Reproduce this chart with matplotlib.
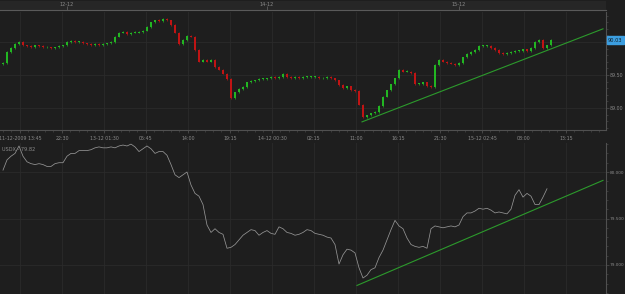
import numpy as np
import matplotlib
matplotlib.use("Agg")
import matplotlib.pyplot as plt
from matplotlib.ticker import MultipleLocator

# Price closes (USD/JPY), one per bar
closes = [89.68, 89.85, 89.91, 89.97, 90.00, 89.95, 89.94, 89.92, 89.95, 89.94,
          89.92, 89.92, 89.91, 89.92, 89.94, 89.95, 90.00, 90.02, 90.00, 90.00,
          89.98, 89.97, 89.95, 89.97, 89.95, 89.97, 89.98, 90.00, 90.08, 90.14,
          90.15, 90.12, 90.14, 90.14, 90.15, 90.17, 90.23, 90.30, 90.33, 90.32,
          90.35, 90.33, 90.26, 90.14, 89.97, 90.03, 90.09, 90.08, 89.88, 89.70,
          89.73, 89.70, 89.73, 89.62, 89.58, 89.52, 89.44, 89.15, 89.24, 89.29,
          89.32, 89.39, 89.41, 89.42, 89.44, 89.44, 89.45, 89.47, 89.45, 89.47,
          89.52, 89.47, 89.45, 89.47, 89.45, 89.47, 89.47, 89.47, 89.47, 89.45,
          89.45, 89.47, 89.45, 89.42, 89.35, 89.30, 89.33, 89.27, 89.26, 89.05,
          88.86, 88.89, 88.92, 88.94, 89.03, 89.17, 89.27, 89.36, 89.45, 89.58,
          89.55, 89.55, 89.53, 89.36, 89.36, 89.39, 89.33, 89.32, 89.65, 89.73,
          89.70, 89.68, 89.67, 89.65, 89.68, 89.77, 89.82, 89.85, 89.88, 89.94,
          89.94, 89.94, 89.91, 89.88, 89.83, 89.82, 89.83, 89.85, 89.86, 89.86,
          89.89, 89.86, 89.91, 90.00, 90.03, 89.91, 89.95, 90.03]

# USDX index, one per bar
usdx = [80.02, 80.13, 80.17, 80.20, 80.28, 80.17, 80.11, 80.09, 80.08, 80.09,
        80.08, 80.06, 80.06, 80.09, 80.10, 80.10, 80.17, 80.20, 80.20, 80.23,
        80.23, 80.23, 80.24, 80.26, 80.27, 80.26, 80.26, 80.27, 80.26, 80.28,
        80.29, 80.28, 80.30, 80.27, 80.22, 80.25, 80.28, 80.25, 80.20, 80.22,
        80.22, 80.18, 80.08, 79.97, 79.94, 79.97, 80.00, 79.86, 79.77, 79.74,
        79.65, 79.43, 79.35, 79.39, 79.35, 79.33, 79.18, 79.19, 79.22, 79.27,
        79.32, 79.35, 79.38, 79.37, 79.32, 79.35, 79.37, 79.34, 79.33, 79.41,
        79.39, 79.35, 79.34, 79.32, 79.33, 79.35, 79.38, 79.37, 79.34, 79.33,
        79.32, 79.30, 79.29, 79.22, 79.01, 79.11, 79.17, 79.16, 79.13, 78.97,
        78.86, 78.89, 78.95, 78.97, 79.08, 79.16, 79.27, 79.38, 79.48, 79.42,
        79.39, 79.29, 79.22, 79.20, 79.19, 79.20, 79.18, 79.39, 79.42, 79.41,
        79.40, 79.41, 79.42, 79.41, 79.43, 79.52, 79.56, 79.56, 79.58, 79.61,
        79.60, 79.61, 79.59, 79.56, 79.57, 79.56, 79.55, 79.60, 79.75, 79.81,
        79.73, 79.77, 79.74, 79.65, 79.65, 79.73, 79.82]

# trend lines: (bar index, value) at both ends
price_trend_x = [89.75, 150.0]
price_trend_y = [88.79, 90.20]
usdx_trend_x = [88.5, 150.0]
usdx_trend_y = [78.78, 79.91]

time_labels = ["11-12-2009 13:45", "22:30", "13-12 01:30", "05:45", "14:00",
               "19:15", "14-12 00:30", "02:15", "11:00", "16:15", "21:30",
               "15-12 02:45", "08:00", "13:15"]
time_label_pos = np.arange(len(time_labels)) * 10.5 + 4.25
day_labels = ["12-12", "14-12", "15-12"]
day_label_pos = [16.0, 66.0, 114.0]

bg = "#1e1e1e"
grid_c = "#2b2b2b"
axis_c = "#505050"
text_c = "#8a8a8a"
up_c = "#22b622"
down_c = "#c01414"

W, H = 625, 294
fig = plt.figure(figsize=(W / 100, H / 100), dpi=100, facecolor=bg)
xlim = (-0.75, 150.75)

def style(ax):
    ax.set_facecolor(bg)
    ax.set_xlim(*xlim)
    for s in ["left", "top", "bottom"]:
        ax.spines[s].set_visible(False)
    ax.spines["right"].set_color(axis_c)
    ax.yaxis.tick_right()
    ax.tick_params(axis="y", colors=axis_c, labelcolor=text_c, labelsize=3.4,
                   length=2, width=0.5, pad=0.8)
    ax.tick_params(axis="y", which="minor", colors=axis_c, length=1.2, width=0.4)
    ax.set_xticks(time_label_pos)
    ax.grid(True, color=grid_c, linewidth=0.6)
    ax.set_axisbelow(True)

# top strip (date navigator)
ax_top = fig.add_axes([0, 1 - 10 / H, 606 / W, 9 / H])
ax_top.set_facecolor("#262626")
ax_top.set_xlim(*xlim)
ax_top.set_ylim(0, 1)
ax_top.set_yticks([])
for s in ["left", "top", "right"]:
    ax_top.spines[s].set_visible(False)
ax_top.spines["bottom"].set_color("#5a5a5a")
ax_top.set_xticks(day_label_pos)
ax_top.set_xticklabels([])
ax_top.tick_params(axis="x", direction="in", length=3, color="#6a6a6a", width=0.5)
for p, lab in zip(day_label_pos, day_labels):
    ax_top.text(p, 0.62, lab, color=text_c, fontsize=3.6, ha="center", va="center")

# price panel
ax1 = fig.add_axes([0, 1 - 130 / H, 606 / W, 118 / H])
style(ax1)
ax1.set_ylim(88.667, 90.455)
ax1.set_yticks([89.0, 89.5, 90.0])
ax1.set_yticklabels(["89.00", "89.50", ""])
ax1.yaxis.set_minor_locator(MultipleLocator(0.1))
ax1.set_xticklabels(time_labels)
ax1.tick_params(axis="x", colors=axis_c, labelcolor=text_c, labelsize=3.4,
                length=2, width=0.5, pad=2)
ax1.xaxis.set_minor_locator(MultipleLocator(2.1))
ax1.tick_params(axis="x", which="minor", colors=axis_c, length=1.2, width=0.4)
ax1.spines["bottom"].set_visible(True)
ax1.spines["bottom"].set_color(axis_c)

idx = np.arange(len(closes))
opens = np.r_[closes[0] - 0.02, closes[:-1]]
closes_a = np.array(closes)
for i, o, c in zip(idx, opens, closes_a):
    col = up_c if c >= o else down_c
    lo, hi = min(o, c), max(o, c)
    hi = max(hi, lo + 0.012)
    ax1.bar(i, hi - lo, bottom=lo, width=0.6, color=col, linewidth=0)
    ax1.vlines(i, lo - 0.01, hi + 0.01, color=col, linewidth=0.5)
ax1.plot(price_trend_x, price_trend_y, color="#2c9a2c", linewidth=0.8)
ax1.annotate(f"{closes[-1]:.2f}", xy=(1.0, closes[-1]),
             xycoords=("axes fraction", "data"), xytext=(1.5, 0),
             textcoords="offset points", fontsize=3.6, color="#10202a",
             va="center", ha="left",
             bbox=dict(boxstyle="square,pad=0.25", fc="#3c9ee0", ec="#3c9ee0"))

# USDX panel
ax2 = fig.add_axes([0, 0, 606 / W, 151 / H])
style(ax2)
ax2.set_ylim(78.688, 80.312)
ax2.set_yticks([79.0, 79.5, 80.0])
ax2.set_yticklabels(["79.000", "79.500", "80.000"])
ax2.tick_params(axis="y", labelsize=3.1)
ax2.yaxis.set_minor_locator(MultipleLocator(0.1))
ax2.set_xticklabels([])
ax2.tick_params(axis="x", length=0)
ax2.plot(np.arange(len(usdx)), usdx, color="#959595", linewidth=0.55)
ax2.plot(usdx_trend_x, usdx_trend_y, color="#2c9a2c", linewidth=0.8)
ax2.text(0.004, 0.975, f"USDX - {usdx[-1]:.2f}", transform=ax2.transAxes,
         color=text_c, fontsize=3.6, ha="left", va="top")

fig.savefig("out.png", dpi=100, facecolor=bg)
